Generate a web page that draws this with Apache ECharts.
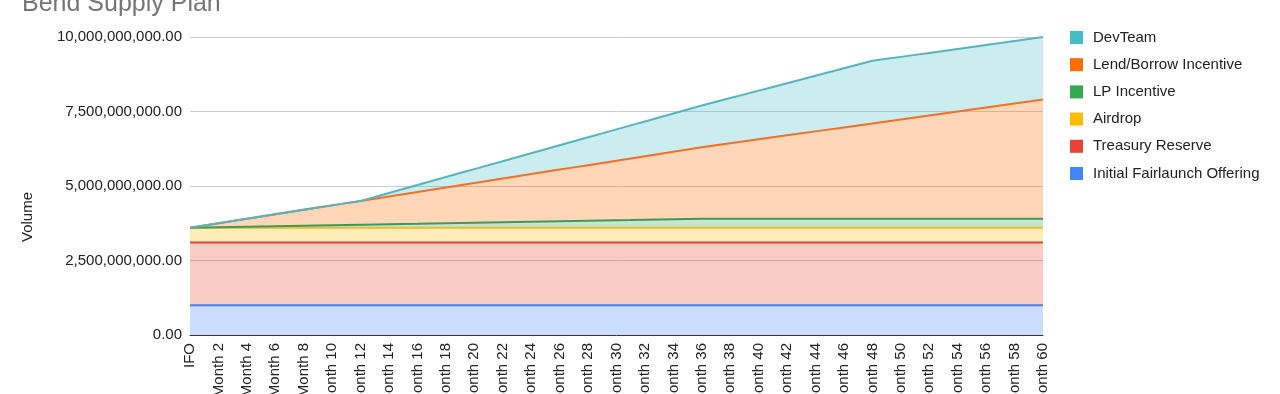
<!DOCTYPE html>
<html>
<head>
<meta charset="utf-8">
<style>html,body{margin:0;padding:0;background:#fff}#c{width:1280px;height:394px}</style>
<script src="https://cdn.jsdelivr.net/npm/echarts@6/dist/echarts.min.js"></script>
</head>
<body>
<div id="c"></div>
<script>
// Values in millions of tokens
const UNIT = 1e6;
const categories = ['IFO','Month 1','Month 2','Month 3','Month 4','Month 5','Month 6','Month 7','Month 8','Month 9','Month 10',
'Month 11','Month 12','Month 13','Month 14','Month 15','Month 16','Month 17','Month 18','Month 19','Month 20',
'Month 21','Month 22','Month 23','Month 24','Month 25','Month 26','Month 27','Month 28','Month 29','Month 30',
'Month 31','Month 32','Month 33','Month 34','Month 35','Month 36','Month 37','Month 38','Month 39','Month 40',
'Month 41','Month 42','Month 43','Month 44','Month 45','Month 46','Month 47','Month 48','Month 49','Month 50',
'Month 51','Month 52','Month 53','Month 54','Month 55','Month 56','Month 57','Month 58','Month 59','Month 60'];

const ifoValues = [1000,1000,1000,1000,1000,1000,1000,1000,1000,1000,1000,
1000,1000,1000,1000,1000,1000,1000,1000,1000,1000,
1000,1000,1000,1000,1000,1000,1000,1000,1000,1000,
1000,1000,1000,1000,1000,1000,1000,1000,1000,1000,
1000,1000,1000,1000,1000,1000,1000,1000,1000,1000,
1000,1000,1000,1000,1000,1000,1000,1000,1000,1000];

const treasuryValues = [2100,2100,2100,2100,2100,2100,2100,2100,2100,2100,2100,
2100,2100,2100,2100,2100,2100,2100,2100,2100,2100,
2100,2100,2100,2100,2100,2100,2100,2100,2100,2100,
2100,2100,2100,2100,2100,2100,2100,2100,2100,2100,
2100,2100,2100,2100,2100,2100,2100,2100,2100,2100,
2100,2100,2100,2100,2100,2100,2100,2100,2100,2100];

const airdropValues = [500,500,500,500,500,500,500,500,500,500,500,
500,500,500,500,500,500,500,500,500,500,
500,500,500,500,500,500,500,500,500,500,
500,500,500,500,500,500,500,500,500,500,
500,500,500,500,500,500,500,500,500,500,
500,500,500,500,500,500,500,500,500,500];

const lpValues = [0,8.3,16.7,25,33.3,41.7,50,58.3,66.7,75,83.3,
91.7,100,108.3,116.7,125,133.3,141.7,150,158.3,166.7,
175,183.3,191.7,200,208.3,216.7,225,233.3,241.7,250,
258.3,266.7,275,283.3,291.7,300,300,300,300,300,
300,300,300,300,300,300,300,300,300,300,
300,300,300,300,300,300,300,300,300,300];

const lendBorrowValues = [0,66.7,133.3,200,266.7,333.3,400,466.7,533.3,600,666.7,
733.3,800,866.7,933.3,1000,1066.7,1133.3,1200,1266.7,1333.3,
1400,1466.7,1533.3,1600,1666.7,1733.3,1800,1866.7,1933.3,2000,
2066.7,2133.3,2200,2266.7,2333.3,2400,2466.7,2533.3,2600,2666.7,
2733.3,2800,2866.7,2933.3,3000,3066.7,3133.3,3200,3266.7,3333.3,
3400,3466.7,3533.3,3600,3666.7,3733.3,3800,3866.7,3933.3,4000];

const devTeamValues = [0,0,0,0,0,0,0,0,0,0,0,
0,0,58.3,116.7,175,233.3,291.7,350,408.3,466.7,
525,583.3,641.7,700,758.3,816.7,875,933.3,991.7,1050,
1108.3,1166.7,1225,1283.3,1341.7,1400,1458.3,1516.7,1575,1633.3,
1691.7,1750,1808.3,1866.7,1925,1983.3,2041.7,2100,2100,2100,
2100,2100,2100,2100,2100,2100,2100,2100,2100,2100];

const yTicks = [0, 2500, 5000, 7500, 10000];

const seriesDefs = [
  {name:'Initial Fairlaunch Offering', data: ifoValues, color:'#4a7fe8', fill:'#4285F4'},
  {name:'Treasury Reserve', data: treasuryValues, color:'#d9473a', fill:'#EA4335'},
  {name:'Airdrop', data: airdropValues, color:'#efbd2c', fill:'#FBBC04'},
  {name:'LP Incentive', data: lpValues, color:'#3f9a55', fill:'#34A853'},
  {name:'Lend/Borrow Incentive', data: lendBorrowValues, color:'#f07026', fill:'#FF6D01'},
  {name:'DevTeam', data: devTeamValues, color:'#55b4be', fill:'#46BDC6'}
];

const FONT = '"Liberation Sans", Arial, sans-serif';
const chart = echarts.init(document.getElementById('c'), null, {renderer:'canvas'});
const fmt = v => v.toLocaleString('en-US', {minimumFractionDigits:2, maximumFractionDigits:2});

chart.setOption({
  animation: false,
  backgroundColor: '#fff',
  textStyle: {fontFamily: FONT},
  title: {
    text: 'Bend Supply Plan',
    left: 22, top: -8, padding: 0,
    textStyle: {fontFamily: FONT, fontSize: 25, fontWeight: 'normal', color: '#757575'}
  },
  legend: {
    orient: 'vertical', left: 1070, top: 30, padding: 0,
    itemWidth: 13, itemHeight: 13, itemGap: 12.2,
    icon: 'rect',
    data: seriesDefs.map(s => s.name).reverse(),
    textStyle: {fontFamily: FONT, fontSize: 15, color: '#222', padding: [0, 0, 0, 5]}
  },
  grid: {left: 190, right: 237, top: 37, bottom: 59, containLabel: false, outerBoundsMode: 'none'},
  xAxis: {
    type: 'category', data: categories, boundaryGap: false,
    axisLine: {lineStyle: {color: '#333', width: 1}},
    axisTick: {show: false},
    axisLabel: {interval: 1, rotate: 90, margin: 8, fontFamily: FONT, fontSize: 15, color: '#222'},
    splitLine: {show: false}
  },
  yAxis: {
    type: 'value', min: yTicks[0] * UNIT, max: yTicks[yTicks.length-1] * UNIT, interval: 2500 * UNIT,
    axisLine: {show: false}, axisTick: {show: false},
    axisLabel: {margin: 8, fontFamily: FONT, fontSize: 15, color: '#222', formatter: v => fmt(v)},
    splitLine: {lineStyle: {color: '#cccccc', width: 1}}
  },
  graphic: [{
    type: 'text', x: 28, y: 217, rotation: Math.PI/2,
    style: {text: 'Volume', font: '15px ' + FONT, fill: '#222', align: 'center', verticalAlign: 'middle'}
  }],
  series: seriesDefs.map(s => ({
    name: s.name, type: 'line', stack: 'total',
    data: s.data.map(v => v * UNIT),
    symbol: 'none', smooth: false,
    itemStyle: {color: s.fill},
    lineStyle: {color: s.color, width: 2},
    areaStyle: {color: s.fill, opacity: 0.28}
  }))
});
</script>
</body>
</html>
